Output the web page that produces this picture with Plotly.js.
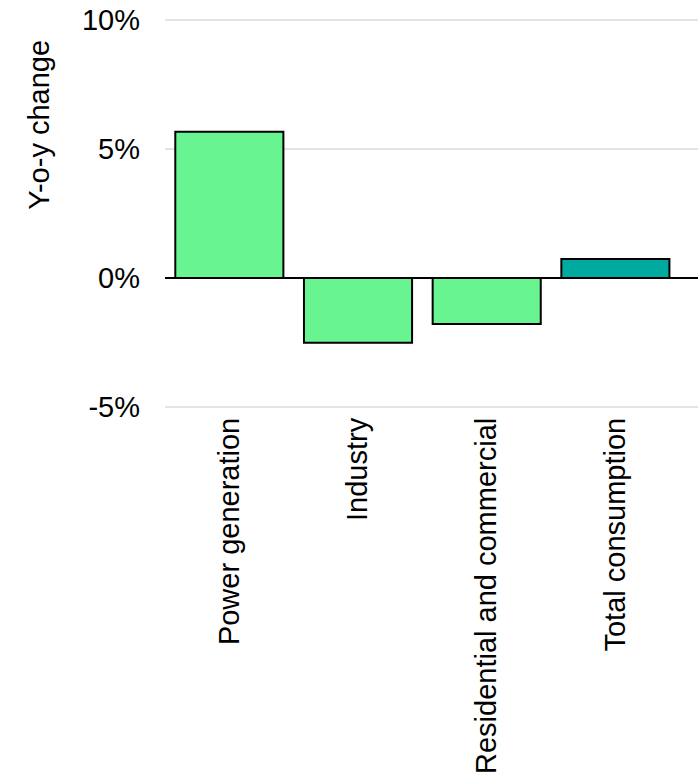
<!DOCTYPE html>
<html>
<head>
<meta charset="utf-8">
<script src="https://cdn.plot.ly/plotly-3.0.1.min.js"></script>
<style>html,body{margin:0;padding:0;background:#fff;}#chart{width:698px;height:777px;}</style>
</head>
<body>
<div id="chart"></div>
<script>
var categories = ['Power generation', 'Industry', 'Residential and commercial', 'Total consumption'];
var yoyChange = [5.67, -2.51, -1.78, 0.74];
var barColors = ['#68f591', '#68f591', '#68f591', '#00aa9f'];
var yTickVals = [-5, 0, 5, 10];
var yTickText = ['-5%', '0%', '5%', '10%'];
var yTitle = 'Y-o-y change';

var FONT = 'Liberation Sans, Arial, sans-serif';
var FS = 29;

var trace = {
  type: 'bar',
  x: categories,
  y: yoyChange,
  marker: {color: barColors, line: {color: '#000000', width: 2}},
  hoverinfo: 'skip'
};

var layout = {
  width: 698,
  height: 777,
  margin: {l: 165, r: 0, t: 18, b: 368},
  paper_bgcolor: '#ffffff',
  plot_bgcolor: '#ffffff',
  showlegend: false,
  bargap: 0.16,
  font: {family: FONT, size: FS, color: '#000000'},
  xaxis: {
    type: 'category',
    range: [-0.5, 3.642],
    tickangle: -90,
    showgrid: false,
    showline: false,
    zeroline: false,
    ticks: '',
    ticklabelstandoff: 2,
    tickfont: {family: FONT, size: FS, color: '#000000'}
  },
  yaxis: {
    range: [-5.08, 10.08],
    tickvals: yTickVals,
    ticktext: yTickText,
    showgrid: true,
    gridcolor: '#e3e3e3',
    gridwidth: 2,
    zeroline: true,
    zerolinecolor: '#000000',
    zerolinewidth: 2.3,
    showline: false,
    ticks: '',
    ticklabelstandoff: 24,
    tickfont: {family: FONT, size: FS, color: '#000000'}
  },
  annotations: [{
    text: yTitle,
    xref: 'paper', yref: 'paper',
    x: (39 - 165) / 533, y: 0.727,
    xanchor: 'center', yanchor: 'middle',
    textangle: -90,
    showarrow: false,
    font: {family: FONT, size: FS, color: '#000000'}
  }]
};

Plotly.newPlot('chart', [trace], layout, {staticPlot: true, displayModeBar: false});
</script>
</body>
</html>
